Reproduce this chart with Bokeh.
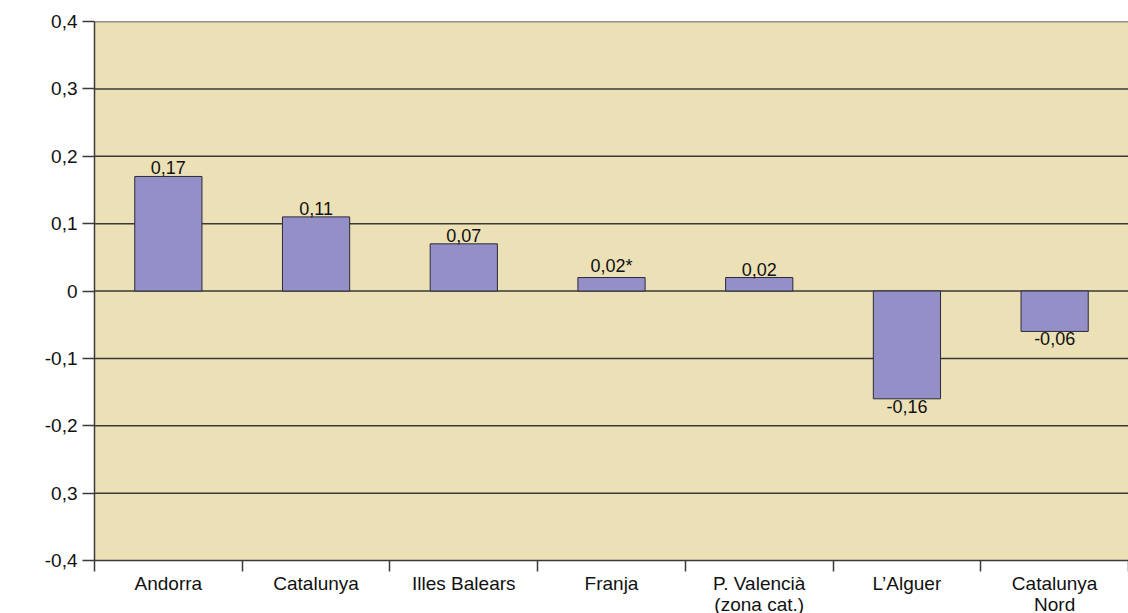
from bokeh.plotting import figure
from bokeh.models import ColumnDataSource, FixedTicker, Range1d, LinearAxis
from bokeh.core.properties import value
from bokeh.embed import file_html
from bokeh.resources import INLINE

# Regions and their index values
regions = ["Andorra", "Catalunya", "Illes Balears", "Franja",
           "P. Valencià\n(zona cat.)", "L\u2019Alguer", "Catalunya\nNord"]
values = [0.17, 0.11, 0.07, 0.02, 0.02, -0.16, -0.06]
value_labels = ["0,17", "0,11", "0,07", "0,02*", "0,02", "-0,16", "-0,06"]

# Y axis ticks and their printed labels
y_ticks = [0.4, 0.3, 0.2, 0.1, 0.0, -0.1, -0.2, -0.3, -0.4]
y_tick_labels = ["0,4", "0,3", "0,2", "0,1", "0", "-0,1", "-0,2", "0,3", "-0,4"]

FONT = "Liberation Sans"
n = len(regions)
centers = [i + 0.5 for i in range(n)]

src = ColumnDataSource(dict(
    x=centers,
    top=[max(v, 0) for v in values],
    bottom=[min(v, 0) for v in values],
    val=values,
    label=value_labels,
))

p = figure(width=1128, height=613, output_backend="svg", toolbar_location=None,
           frame_width=1034, frame_height=539,
           x_range=Range1d(0, n), y_range=Range1d(-0.4, 0.4),
           min_border_left=94, min_border_right=0, min_border_top=21,
           min_border_bottom=0, x_axis_type=None, y_axis_type=None)

p.background_fill_color = "#ebe0b6"
p.border_fill_color = "#ffffff"
p.outline_line_color = None

# Horizontal rules every 0.1
p.ygrid.grid_line_color = None
p.xgrid.grid_line_color = None
for yv in y_ticks[:-1]:
    p.line(x=[0, n], y=[yv, yv], line_color="#3a3a3a", line_width=1.5)

p.vbar(x="x", top="top", bottom="bottom", width=0.455, source=src,
       fill_color="#948fc6", line_color="#2b2b3a", line_width=1)

# Value labels: above positive bars, below negative bars
pos = ColumnDataSource(dict(
    x=[c for c, v in zip(centers, values) if v >= 0],
    y=[v for v in values if v >= 0],
    t=[l for l, v in zip(value_labels, values) if v >= 0]))
neg = ColumnDataSource(dict(
    x=[c for c, v in zip(centers, values) if v < 0],
    y=[v for v in values if v < 0],
    t=[l for l, v in zip(value_labels, values) if v < 0]))
p.text(x="x", y="y", text="t", source=pos, text_align="center",
       text_baseline="bottom", y_offset=-2, text_font=value(FONT),
       text_font_size="18px", text_color="#111111")
p.text(x="x", y="y", text="t", source=neg, text_align="center",
       text_baseline="top", y_offset=1, text_font=value(FONT),
       text_font_size="18px", text_color="#111111")

# Left axis
yaxis = LinearAxis(ticker=FixedTicker(ticks=y_ticks, minor_ticks=[]))
yaxis.major_label_overrides = {t: l for t, l in zip(y_ticks, y_tick_labels)}
yaxis.axis_line_color = "#3a3a3a"
yaxis.axis_line_width = 1.5
yaxis.major_tick_line_color = "#3a3a3a"
yaxis.major_tick_line_width = 1.5
yaxis.major_tick_out = 12
yaxis.major_tick_in = 0
yaxis.major_label_standoff = 5
yaxis.major_label_text_font = FONT
yaxis.major_label_text_font_size = "19px"
yaxis.major_label_text_color = "#111111"
p.add_layout(yaxis, "left")

# Bottom axis: labels at bar centres, tick marks at category boundaries
xaxis = LinearAxis(ticker=FixedTicker(ticks=centers, minor_ticks=list(range(n + 1))))
xaxis.major_label_overrides = {c: r for c, r in zip(centers, regions)}
xaxis.axis_line_color = "#3a3a3a"
xaxis.axis_line_width = 1.5
xaxis.major_tick_line_color = None
xaxis.major_tick_out = 0
xaxis.major_tick_in = 0
xaxis.minor_tick_line_color = "#3a3a3a"
xaxis.minor_tick_line_width = 1.5
xaxis.minor_tick_out = 11
xaxis.minor_tick_in = 0
xaxis.major_label_standoff = 1
xaxis.major_label_text_font = FONT
xaxis.major_label_text_font_size = "19px"
xaxis.major_label_text_color = "#111111"
xaxis.major_label_text_line_height = 1.0
p.add_layout(xaxis, "below")

open("out.html", "w").write(file_html(p, INLINE))
